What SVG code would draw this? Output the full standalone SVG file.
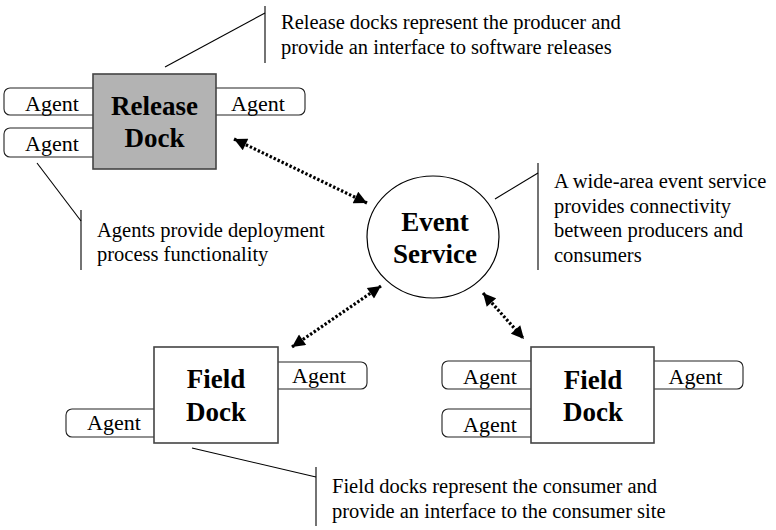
<svg xmlns="http://www.w3.org/2000/svg" width="776" height="530" viewBox="0 0 776 530">
<defs>
<style>
.agent{fill:#fff;stroke:#222;stroke-width:1.1}
.dock{fill:#fff;stroke:#444;stroke-width:1.6}
.rdock{fill:#b3b3b3;stroke:#444;stroke-width:1.6}
.at{font-family:"Liberation Serif",serif;font-size:22px;text-anchor:middle;fill:#000}
.bt{font-family:"Liberation Serif",serif;font-size:27px;font-weight:bold;text-anchor:middle;fill:#000}
.ct{font-family:"Liberation Serif",serif;font-size:20.5px;fill:#000}
.call{stroke:#000;stroke-width:1.1;fill:none}
.conn{stroke:#000;stroke-width:3.2;stroke-dasharray:2.4 2;fill:none;marker-start:url(#ah);marker-end:url(#ah)}
</style>
<marker id="ah" viewBox="0 0 10 10" refX="10" refY="5" markerWidth="4.6" markerHeight="4" markerUnits="strokeWidth" orient="auto-start-reverse">
<path d="M0,0 L10,5 L0,10 z" fill="#000"/>
</marker>
</defs>
<rect width="776" height="530" fill="#fff"/>

<g id="release-dock">
<rect class="agent" x="4" y="88" width="100" height="27" rx="6"/>
<rect class="agent" x="4" y="128" width="100" height="29" rx="6"/>
<rect class="agent" x="205" y="88" width="100" height="27" rx="6"/>
<rect class="rdock" x="93" y="74" width="123" height="95"/>
<text class="at" x="52" y="111">Agent</text>
<text class="at" x="52" y="151">Agent</text>
<text class="at" x="258" y="111">Agent</text>
<text class="bt" x="154.5" y="115">Release</text>
<text class="bt" x="154.5" y="147">Dock</text>
</g>

<g id="event-service">
<ellipse cx="433" cy="237" rx="66" ry="61" fill="#fff" stroke="#000" stroke-width="1.2"/>
<text class="bt" x="435" y="231">Event</text>
<text class="bt" x="435" y="263">Service</text>
</g>

<g id="field-dock-left">
<rect class="agent" x="66" y="409" width="100" height="28" rx="6"/>
<rect class="agent" x="266" y="362" width="101" height="27" rx="6"/>
<rect class="dock" x="154" y="347" width="124" height="96"/>
<text class="at" x="114" y="430">Agent</text>
<text class="at" x="319" y="383">Agent</text>
<text class="bt" x="216" y="388">Field</text>
<text class="bt" x="216" y="421">Dock</text>
</g>

<g id="field-dock-right">
<rect class="agent" x="442" y="361" width="100" height="28" rx="6"/>
<rect class="agent" x="442" y="409" width="100" height="28" rx="6"/>
<rect class="agent" x="643" y="361" width="100" height="28" rx="6"/>
<rect class="dock" x="531" y="347" width="123" height="96"/>
<text class="at" x="490" y="384">Agent</text>
<text class="at" x="490" y="432">Agent</text>
<text class="at" x="695.5" y="384">Agent</text>
<text class="bt" x="593" y="389">Field</text>
<text class="bt" x="593" y="421">Dock</text>
</g>

<g id="connectors">
<line class="conn" x1="234" y1="139" x2="367" y2="203"/>
<line class="conn" x1="292" y1="347" x2="381" y2="286"/>
<line class="conn" x1="483" y1="293" x2="524" y2="339"/>
</g>

<g id="callouts">
<polyline class="call" points="165,67 265,13"/>
<line class="call" x1="265" y1="6" x2="265" y2="63"/>
<text class="ct" x="281" y="29">Release docks represent the producer and</text>
<text class="ct" x="281" y="54">provide an interface to software releases</text>

<polyline class="call" points="37,163 81,221"/>
<line class="call" x1="81" y1="210" x2="81" y2="270"/>
<text class="ct" x="97" y="237">Agents provide deployment</text>
<text class="ct" x="97" y="261">process functionality</text>

<polyline class="call" points="495,199 538,173"/>
<line class="call" x1="538" y1="163" x2="538" y2="270"/>
<text class="ct" x="554" y="188">A wide-area event service</text>
<text class="ct" x="554" y="213">provides connectivity</text>
<text class="ct" x="554" y="237">between producers and</text>
<text class="ct" x="554" y="262">consumers</text>

<polyline class="call" points="192,448 316,477"/>
<line class="call" x1="316" y1="467" x2="316" y2="526"/>
<text class="ct" x="332" y="493">Field docks represent the consumer and</text>
<text class="ct" x="332" y="518">provide an interface to the consumer site</text>
</g>
</svg>
